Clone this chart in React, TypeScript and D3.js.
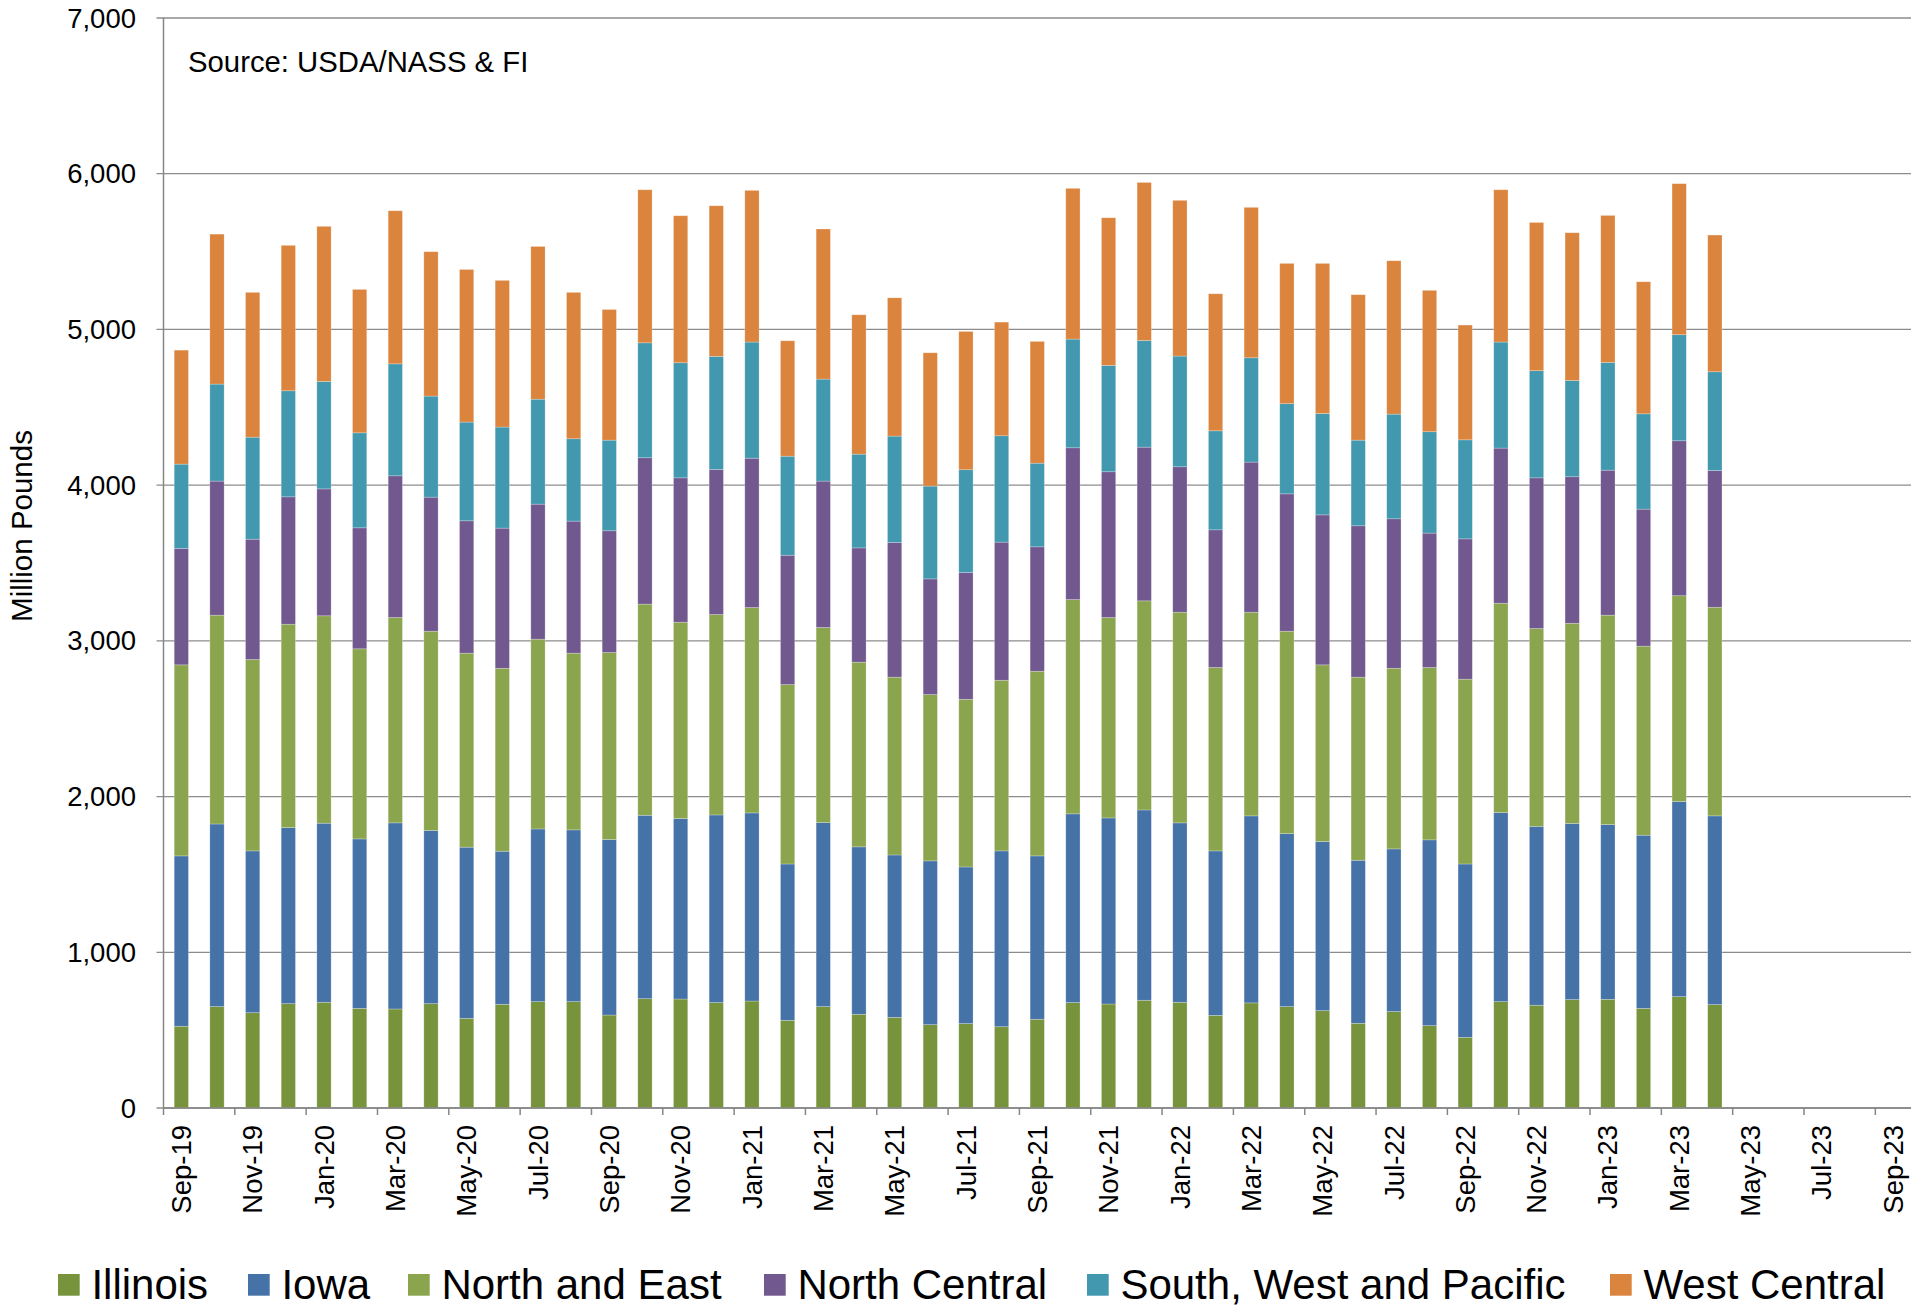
import React from "react";
import * as d3 from "d3";

const months = [
  "Sep-19","Oct-19","Nov-19","Dec-19",
  "Jan-20","Feb-20","Mar-20","Apr-20","May-20","Jun-20","Jul-20","Aug-20","Sep-20","Oct-20","Nov-20","Dec-20",
  "Jan-21","Feb-21","Mar-21","Apr-21","May-21","Jun-21","Jul-21","Aug-21","Sep-21","Oct-21","Nov-21","Dec-21",
  "Jan-22","Feb-22","Mar-22","Apr-22","May-22","Jun-22","Jul-22","Aug-22","Sep-22","Oct-22","Nov-22","Dec-22",
  "Jan-23","Feb-23","Mar-23","Apr-23","May-23","Jun-23","Jul-23","Aug-23","Sep-23",
];

const seriesNames = ["Illinois", "Iowa", "North and East", "North Central", "South, West and Pacific", "West Central"];
const seriesColors = ["#77933C", "#4572A7", "#8BA54E", "#71588F", "#4198AF", "#DB843D"];

const illinois = [525,651,612,670,679,640,636,670,576,666,683,683,597,702,700,677,687,563,651,602,582,535,542,522,570,677,668,692,679,595,675,651,625,544,619,529,454,683,660,696,698,640,715,664];
const iowa = [1094,1173,1039,1131,1150,1088,1195,1112,1099,983,1109,1103,1127,1178,1159,1205,1208,1004,1182,1075,1043,1052,1006,1129,1049,1212,1195,1222,1152,1056,1201,1111,1086,1047,1045,1193,1113,1214,1149,1131,1122,1112,1253,1212];
const northEast = [1227,1341,1229,1306,1332,1221,1319,1280,1246,1175,1219,1135,1201,1356,1261,1287,1319,1152,1253,1186,1142,1068,1077,1096,1186,1376,1287,1343,1353,1178,1308,1300,1135,1176,1160,1107,1187,1345,1270,1286,1345,1214,1322,1340];
const northCentral = [747,861,773,818,815,777,910,861,850,900,867,848,782,940,927,932,959,831,940,734,865,743,814,887,799,975,936,987,934,884,964,882,963,972,960,863,901,996,968,941,931,880,995,878];
const southWestPacific = [542,623,655,681,690,610,719,649,634,649,674,529,582,738,739,726,746,636,655,602,683,596,660,683,537,698,683,685,711,636,670,579,651,550,672,651,636,681,688,618,692,612,681,634];
const westCentral = [732,963,930,934,996,921,983,927,980,942,981,940,839,983,944,967,974,741,964,895,888,856,888,730,782,968,948,1015,1000,880,966,901,964,934,985,908,737,978,952,949,944,848,970,878];

const yTicks = [0, 1000, 2000, 3000, 4000, 5000, 6000, 7000];
const sourceText = "Source: USDA/NASS & FI";
const yTitle = "Million Pounds";

// layout
const W = 1929;
const H = 1308;
const plotLeft = 163.5;
const plotRight = 1911;
const plotTop = 18;
const plotBottom = 1108;
const legendX = [58, 248, 408, 764, 1087, 1610];
const FONT = "'Liberation Sans', Arial, Helvetica, sans-serif";

export default function App() {
  React.useEffect(() => {
    document.body.style.margin = "0";
    document.documentElement.style.overflow = "hidden";
  }, []);

  const seriesData = [illinois, iowa, northEast, northCentral, southWestPacific, westCentral];
  const rows = illinois.map((_, i) => {
    const r: Record<string, any> = { month: months[i] };
    seriesNames.forEach((n, k) => (r[n] = seriesData[k][i]));
    return r;
  });
  const stacked = d3.stack<any>().keys(seriesNames)(rows);

  const x = d3
    .scaleBand<string>()
    .domain(months)
    .range([plotLeft, plotRight])
    .paddingInner(0.6)
    .paddingOuter(0.3);
  const y = d3.scaleLinear().domain([0, 7000]).range([plotBottom, plotTop]);
  const step = x.step();
  const fmt = d3.format(",");

  return (
    <svg width={W} height={H} style={{ display: "block", position: "absolute", left: 0, top: 0 }} fontFamily={FONT}>
      <rect x={0} y={0} width={W} height={H} fill="#fff" />
      {/* gridlines */}
      {yTicks.map((t) => (
        <line key={"g" + t} x1={plotLeft - 7} x2={plotRight} y1={y(t)} y2={y(t)} stroke="#8c8c8c" strokeWidth={1.3} />
      ))}
      {/* y tick labels */}
      {yTicks.map((t) => (
        <text key={"yl" + t} x={136} y={y(t)} dy="0.35em" textAnchor="end" fontSize={27.5} fill="#000">
          {fmt(t)}
        </text>
      ))}
      {/* bars */}
      {stacked.map((s, k) => (
        <g key={s.key} fill={seriesColors[k]}>
          {s.map((d, i) => (
            <rect
              key={i}
              x={x(d.data.month)}
              y={y(d[1])}
              width={x.bandwidth()}
              height={y(d[0]) - y(d[1])}
              stroke="#ffffff"
              strokeOpacity={0.35}
              strokeWidth={0.7}
            />
          ))}
        </g>
      ))}
      {/* axes */}
      <line x1={plotLeft} x2={plotLeft} y1={plotTop} y2={plotBottom} stroke="#868686" strokeWidth={1.5} />
      <line x1={plotLeft} x2={plotRight} y1={plotBottom} y2={plotBottom} stroke="#868686" strokeWidth={1.5} />
      {months.map((m, i) =>
        i % 2 === 0 ? (
          <line
            key={"xt" + m}
            x1={plotLeft + i * step}
            x2={plotLeft + i * step}
            y1={plotBottom}
            y2={plotBottom + 7}
            stroke="#868686"
            strokeWidth={1.5}
          />
        ) : null
      )}
      {months.map((m, i) =>
        i % 2 === 0 ? (
          <text
            key={"xl" + m}
            transform={`translate(${(x(m) as number) + x.bandwidth() / 2},${plotBottom + 17}) rotate(-90)`}
            textAnchor="end"
            dy="0.35em"
            fontSize={27.5}
            fill="#000"
          >
            {m}
          </text>
        ) : null
      )}
      {/* y title */}
      <text transform={`translate(32,526) rotate(-90)`} textAnchor="middle" fontSize={29.5} fill="#000">
        {yTitle}
      </text>
      {/* source */}
      <text x={188} y={71.5} fontSize={29.3} fill="#000">
        {sourceText}
      </text>
      {/* legend */}
      {seriesNames.map((n, k) => (
        <g key={"lg" + n} transform={`translate(${legendX[k]},0)`}>
          <rect x={0} y={1274} width={21.7} height={21.7} fill={seriesColors[k]} />
          <text x={33.4} y={1298.5} fontSize={42} fill="#000">
            {n}
          </text>
        </g>
      ))}
    </svg>
  );
}
